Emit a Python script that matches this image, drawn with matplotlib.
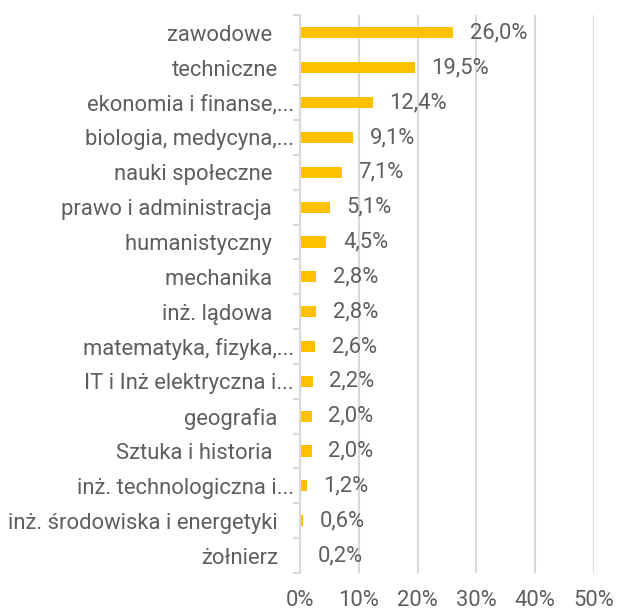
import matplotlib
matplotlib.use("Agg")
import matplotlib.pyplot as plt
import matplotlib.transforms as mtransforms
import numpy as np
from matplotlib.ticker import FixedLocator

categories = ["zawodowe ", "techniczne", "ekonomia i finanse,...", "biologia, medycyna,...",
              "nauki społeczne ", "prawo i administracja ", "humanistyczny ", "mechanika ",
              "inż. lądowa ", "matematyka, fizyka,...", "IT i Inż elektryczna i...", "geografia",
              "Sztuka i historia ", "inż. technologiczna i...", "inż. środowiska i energetyki",
              "żołnierz"]
values = [26.0, 19.5, 12.4, 9.1, 7.1, 5.1, 4.5, 2.8, 2.8, 2.6, 2.2, 2.0, 2.0, 1.2, 0.6, 0.2]
xticks = [0, 10, 20, 30, 40, 50]

plt.rcParams['font.family'] = ['Roboto', 'DejaVu Sans']
TXT = '#5e5e5e'
GRID = '#d9d9d9'
FS = 15.8

fig = plt.figure(figsize=(6.17, 6.12), dpi=100)
ax = fig.add_axes([0.486, 0.0637, 0.477, 0.911])

y = np.arange(len(categories))
ax.barh(y, values, height=0.32, color='#FFC000', zorder=3)
for yi, v in zip(y, values):
    ax.annotate(f"{v:.1f}%".replace('.', ','), xy=(v, yi), xytext=(12, 0),
                textcoords='offset points', va='center', ha='left',
                fontsize=FS, color=TXT)

ax.set_xlim(0, 50)
ax.set_ylim(len(categories) - 0.5, -0.5)
ax.set_yticks(y)
ax.set_yticklabels(categories, fontsize=FS, color=TXT)
ax.yaxis.set_minor_locator(FixedLocator(np.arange(-0.5, len(categories), 1)))
ax.tick_params(axis='y', which='major', length=0, pad=16)
ax.tick_params(axis='y', which='minor', length=5, color=GRID, width=1.5)
for lab in ax.get_yticklabels():
    if lab.get_text().endswith('...'):
        lab.set_transform(lab.get_transform() +
                          mtransforms.ScaledTranslation(16 / 100, 0, fig.dpi_scale_trans))

ax.set_xticks(xticks)
ax.set_xticklabels([f"{t}%" for t in xticks], fontsize=FS, color=TXT)
ax.tick_params(axis='x', length=0, pad=12)
ax.grid(axis='x', color=GRID, linewidth=1.5, zorder=0)

for s in ['top', 'right', 'bottom']:
    ax.spines[s].set_visible(False)
ax.spines['left'].set_color(GRID)
ax.spines['left'].set_linewidth(1.5)
ax.spines['left'].set_zorder(4)

fig.savefig("out.png", dpi=100)
